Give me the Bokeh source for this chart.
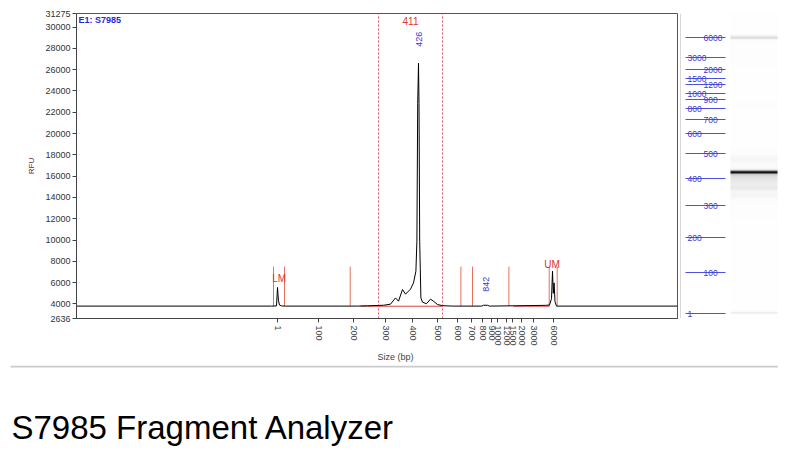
import numpy as np
from bokeh.plotting import figure
from bokeh.layouts import row, column
from bokeh.models import Range1d, FixedTicker, Title, LinearColorMapper
from bokeh.palettes import Greys256
from bokeh.embed import file_html
from bokeh.resources import INLINE
from bokeh.core.properties import value

# ---- data ----
ladder_sizes = [1, 100, 200, 300, 400, 500, 600, 700, 800, 900, 1000, 1200, 1500, 2000, 3000, 6000]
ladder_pos = [0, 41, 76, 108, 135, 160, 180, 194, 205, 214, 220, 229, 235, 244, 256, 276]

trace_pos = [-201, -6, -1, -0.3, 0, 0.5, 1, 2, 4, 8, 80, 90, 106, 113, 118, 121, 125, 128,
             133, 136, 138.4, 139.4, 140.2, 141, 141.5, 142.2, 143.4, 145, 149, 153, 156,
             160, 165, 175, 204, 206, 210, 212, 238, 268, 272, 274, 275, 275.8, 276.6,
             277.5, 279, 400]
trace_rfu = [3800, 3800, 3820, 5000, 5550, 4900, 4300, 3900, 3820, 3800, 3800, 3830, 3880,
             3980, 4570, 4260, 5360, 4920, 5390, 5980, 7080, 9900, 22800, 26600, 22800,
             9900, 4570, 4170, 4025, 4450, 4260, 3950, 3840, 3800, 3800, 3880, 3880, 3800,
             3830, 3870, 3900, 4500, 7080, 5000, 5980, 4200, 3800, 3800]

y_ticks = [2636, 4000, 6000, 8000, 10000, 12000, 14000, 16000, 18000, 20000, 22000,
           24000, 26000, 28000, 30000, 31275]

marker_pos = [-4, 7, 72.7, 183.4, 195, 231.4, 271.7, 279.7]
marker_top = 7500
region_bounds = [101, 165]
region_label = "411"
peak_sizes = [426, 842]
int_x0 = [83, 236]
int_x1 = [165, 272]

peak_pos = list(np.interp(peak_sizes, ladder_sizes, ladder_pos))

YMIN, YMAX = 2636, 31275
XMIN, XMAX = -201, 400
FONT = "Liberation Sans"
TOP, BOTTOM = 13, 47

# ---- electropherogram ----
p = figure(width=678, height=365, x_range=Range1d(XMIN, XMAX), y_range=Range1d(YMIN, YMAX),
           output_backend="svg", toolbar_location=None,
           min_border_left=76, min_border_right=1, min_border_top=TOP, min_border_bottom=BOTTOM)
p.xgrid.visible = False
p.ygrid.visible = False
p.outline_line_color = "#555555"
p.background_fill_color = "white"
p.border_fill_color = "white"

p.yaxis.ticker = FixedTicker(ticks=y_ticks)
p.yaxis.major_label_text_font = FONT
p.yaxis.major_label_text_font_size = "9px"
p.yaxis.major_label_text_color = "#333333"
p.yaxis.major_label_standoff = 2
p.yaxis.major_tick_out = 4
p.yaxis.major_tick_in = 0
p.yaxis.minor_tick_out = 0
p.yaxis.minor_tick_in = 0
p.yaxis.axis_line_color = "#444444"
p.yaxis.major_tick_line_color = "#444444"
p.yaxis.axis_label = "RFU"
p.yaxis.axis_label_text_font = FONT
p.yaxis.axis_label_text_font_size = "8px"
p.yaxis.axis_label_text_font_style = "normal"
p.yaxis.axis_label_text_color = "#6b2535"
p.yaxis.axis_label_standoff = 6

p.xaxis.ticker = FixedTicker(ticks=ladder_pos)
p.xaxis.major_label_overrides = {pos: str(s) for pos, s in zip(ladder_pos, ladder_sizes)}
p.xaxis.major_label_orientation = "vertical"
p.xaxis.major_label_text_font = FONT
p.xaxis.major_label_text_font_size = "9px"
p.xaxis.major_label_text_color = "#444444"
p.xaxis.major_label_standoff = 3
p.xaxis.major_tick_out = 4
p.xaxis.major_tick_in = 0
p.xaxis.minor_tick_out = 0
p.xaxis.minor_tick_in = 0
p.xaxis.axis_line_color = "#444444"
p.xaxis.major_tick_line_color = "#444444"

p.add_layout(Title(text="Size (bp)", align="left", offset=301, text_font=FONT,
                   text_font_size="9px", text_font_style="normal",
                   text_color="#444444", standoff=2), "below")

# region dashed bounds
p.segment(x0=region_bounds, x1=region_bounds, y0=[YMIN] * 2, y1=[YMAX] * 2,
          line_color="#e0506a", line_dash="2 2", line_width=1)
# peak boundary markers
p.segment(x0=marker_pos, x1=marker_pos, y0=[3800] * len(marker_pos), y1=[marker_top] * len(marker_pos),
          line_color="#e8705a", line_width=1)
# integration baselines
p.segment(x0=int_x0, x1=int_x1, y0=[3790] * 2, y1=[3790] * 2, line_color="#e04040", line_width=1)
# trace
p.line(trace_pos, trace_rfu, line_color="black", line_width=1)

# annotations
p.text(x=[XMIN + 2], y=[31090], text=["E1: S7985"], text_font=value(FONT), text_font_size="9px",
       text_font_style="bold", text_color="#2828d8", text_align="left", text_baseline="top")
p.text(x=[(region_bounds[0] + region_bounds[1]) / 2], y=[30600], text=[region_label],
       text_font=value(FONT), text_font_size="10px", text_color="#e03030",
       text_align="center", text_baseline="middle")
p.text(x=peak_pos, y=[28860, 5860], text=[str(s) for s in peak_sizes], angle=np.pi / 2,
       text_font=value(FONT), text_font_size="9px", text_color="#3a3ad0",
       text_align="center", text_baseline="middle")
p.text(x=[1.7, 274.5], y=[6420, 7735], text=["LM", "UM"], text_font=value(FONT),
       text_font_size="10px", text_color="#e03030", text_align="center", text_baseline="middle")

# ---- gel view ----
GY0, GY1 = -5, 300
gel = figure(width=100, height=365, x_range=Range1d(0, 100), y_range=Range1d(GY0, GY1),
             output_backend="svg", toolbar_location=None, min_border_left=0,
             min_border_right=0, min_border_top=TOP, min_border_bottom=BOTTOM)
gel.axis.visible = False
gel.xgrid.visible = False
gel.ygrid.visible = False
gel.outline_line_color = None
gel.border_fill_color = "white"

ys = np.arange(GY0, GY1, 0.5)
vals = np.interp(ys, trace_pos, trace_rfu).reshape(-1, 1)
mapper = LinearColorMapper(palette=list(Greys256)[::-1], low=3700, high=22000)
gel.image(image=[vals], x=52, y=GY0, dw=47, dh=GY1 - GY0, color_mapper=mapper)

gel.segment(x0=[2], x1=[2], y0=[GY0], y1=[GY1], line_color="#d8d8d8", line_width=1)
gel.segment(x0=[7] * len(ladder_pos), x1=[47] * len(ladder_pos), y0=ladder_pos, y1=ladder_pos,
            line_color="#5050e0", line_width=1)
lx = [9 if i % 2 == 0 else 25 for i in range(len(ladder_pos))]
gel.text(x=lx, y=ladder_pos, text=[str(s) for s in ladder_sizes], text_font=value(FONT),
         text_font_size="8.5px", text_color="#3a3ad0", text_align="left", text_baseline="middle")

# ---- caption ----
cap = figure(width=778, height=85, x_range=Range1d(0, 778), y_range=Range1d(0, 85),
             output_backend="svg", toolbar_location=None, min_border=0)
cap.axis.visible = False
cap.xgrid.visible = False
cap.ygrid.visible = False
cap.outline_line_color = None
cap.segment(x0=[10], x1=[778], y0=[84], y1=[84], line_color="#cccccc", line_width=2)
cap.text(x=[11], y=[23], text=["S7985 Fragment Analyzer"], text_font=value(FONT),
         text_font_size="33px", text_color="black", text_align="left", text_baseline="alphabetic")

layout = column(row(p, gel), cap)
open("out.html", "w").write(file_html(layout, INLINE))
